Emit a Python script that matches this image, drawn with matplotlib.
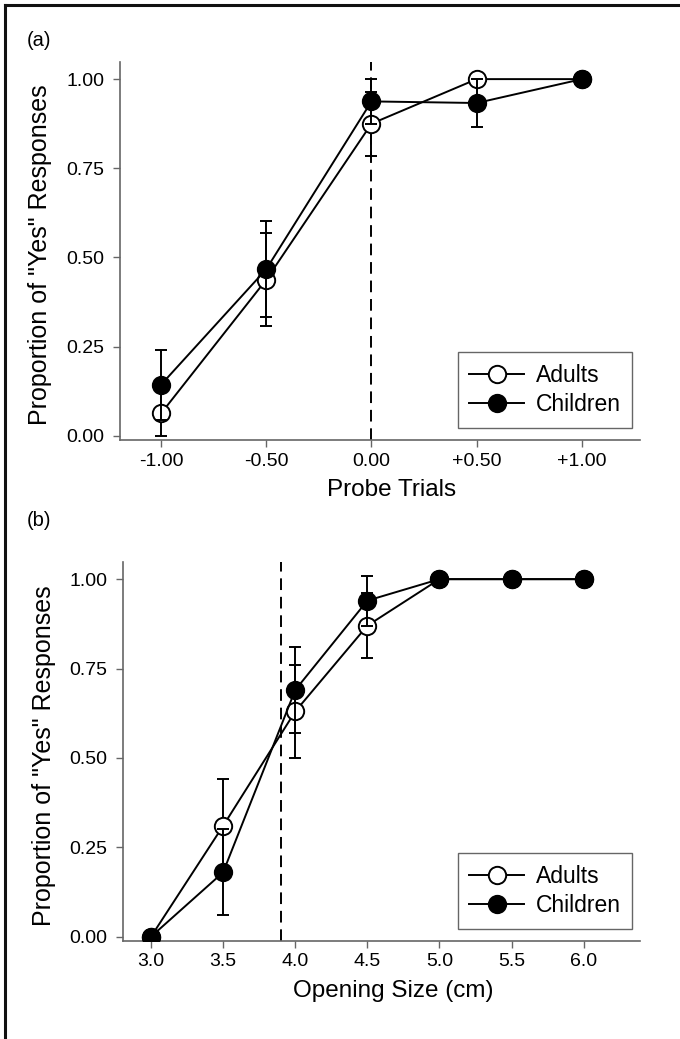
import numpy as np
import matplotlib.pyplot as plt
from matplotlib.lines import Line2D

plt.rcParams["font.family"] = ["Liberation Sans", "DejaVu Sans"]

# panel (a): probe trials
probe_x = [-1.0, -0.5, 0.0, 0.5, 1.0]
probe_ticks = ["-1.00", "-0.50", "0.00", "+0.50", "+1.00"]
probe_adults = [0.0625, 0.4375, 0.875, 1.0, 1.0]
probe_adults_err = [0.0625, 0.13, 0.09, 0.0, 0.0]
probe_children = [0.143, 0.467, 0.9375, 0.933, 1.0]
probe_children_err = [0.098, 0.135, 0.0625, 0.067, 0.0]

# panel (b): opening size
size_x = [3.0, 3.5, 4.0, 4.5, 5.0, 5.5, 6.0]
size_ticks = ["3.0", "3.5", "4.0", "4.5", "5.0", "5.5", "6.0"]
size_adults = [0.0, 0.31, 0.63, 0.87, 1.0, 1.0, 1.0]
size_adults_err = [0.0, 0.13, 0.13, 0.09, 0.0, 0.0, 0.0]
size_children = [0.0, 0.18, 0.69, 0.94, 1.0, 1.0, 1.0]
size_children_err = [0.0, 0.12, 0.12, 0.07, 0.0, 0.0, 0.0]

yticks = [0.0, 0.25, 0.5, 0.75, 1.0]
ytick_labels = ["0.00", "0.25", "0.50", "0.75", "1.00"]

fig = plt.figure(figsize=(6.8, 10.39), dpi=100)
W, H = 680.0, 1039.0

# figure frame: only top and left edges
fig.add_artist(Line2D([5 / W, 1], [1 - 5 / H, 1 - 5 / H], color="#111111", lw=2.2, transform=fig.transFigure))
fig.add_artist(Line2D([5 / W, 5 / W], [0, 1 - 5 / H], color="#111111", lw=2.2, transform=fig.transFigure))

spine_col = "#666666"
lw = 1.4


def draw_panel(ax, x, ad, ad_err, ch, ch_err, vline, ticklabels, xlim, xlabel, xlab_y):
    ax.errorbar(x, ad, yerr=ad_err, fmt="none", ecolor="black", elinewidth=lw, capsize=4.5, capthick=lw, zorder=3)
    ax.plot(x, ad, color="black", lw=lw, marker="o", ms=12.5, mfc="white", mec="black", mew=lw, zorder=3)
    ax.errorbar(x, ch, yerr=ch_err, fmt="none", ecolor="black", elinewidth=lw, capsize=4.5, capthick=lw, zorder=4)
    ax.plot(x, ch, color="black", lw=lw, marker="o", ms=12.5, mfc="black", mec="black", mew=lw, zorder=4)
    ax.axvline(vline, color="black", lw=lw, ls=(0, (6, 3.5)), zorder=2)
    ax.set_xlim(xlim)
    ax.set_ylim(-0.012, 1.048)
    ax.set_xticks(x)
    ax.set_xticklabels(ticklabels)
    ax.set_yticks(yticks)
    ax.set_yticklabels(ytick_labels)
    for s in ["top", "right"]:
        ax.spines[s].set_visible(False)
    for s in ["left", "bottom"]:
        ax.spines[s].set_color(spine_col)
        ax.spines[s].set_linewidth(1.2)
    ax.tick_params(direction="out", length=5, width=1, color=spine_col, labelsize=14)
    ax.tick_params(axis="x", pad=4)
    ax.tick_params(axis="y", pad=6)
    ax.set_xlabel(xlabel, fontsize=17.5)
    ax.xaxis.set_label_coords(0.523, xlab_y)
    ax.set_ylabel('Proportion of "Yes" Responses', fontsize=18)
    ax.yaxis.set_label_coords(-0.13, 0.49)
    handles = [
        Line2D([], [], color="black", lw=lw, marker="o", ms=12.5, mfc="white", mec="black", mew=lw),
        Line2D([], [], color="black", lw=lw, marker="o", ms=12.5, mfc="black", mec="black", mew=lw),
    ]
    leg = ax.legend(handles, ["Adults", "Children"], loc="lower right", bbox_to_anchor=(0.985, 0.032),
                    borderaxespad=0, fontsize=16.5, handlelength=2.4, handletextpad=0.5,
                    frameon=True, fancybox=False, labelspacing=0.3, borderpad=0.5, framealpha=1)
    leg.get_frame().set_edgecolor(spine_col)
    leg.get_frame().set_linewidth(1.0)


ax1 = fig.add_axes([120 / W, 1 - 440 / H, 520 / W, 378 / H])
draw_panel(ax1, probe_x, probe_adults, probe_adults_err, probe_children, probe_children_err,
           0.0, probe_ticks, (-1.195, 1.276), "Probe Trials", -0.102)

ax2 = fig.add_axes([123 / W, 1 - 941 / H, 517 / W, 379 / H])
draw_panel(ax2, size_x, size_adults, size_adults_err, size_children, size_children_err,
           3.9, size_ticks, (2.806, 6.39), "Opening Size (cm)", -0.104)

fig.text(27 / W, 1 - 40 / H, "(a)", fontsize=14.5, va="center")
fig.text(27 / W, 1 - 520 / H, "(b)", fontsize=14.5, va="center")

fig.savefig("out.png", dpi=100)
